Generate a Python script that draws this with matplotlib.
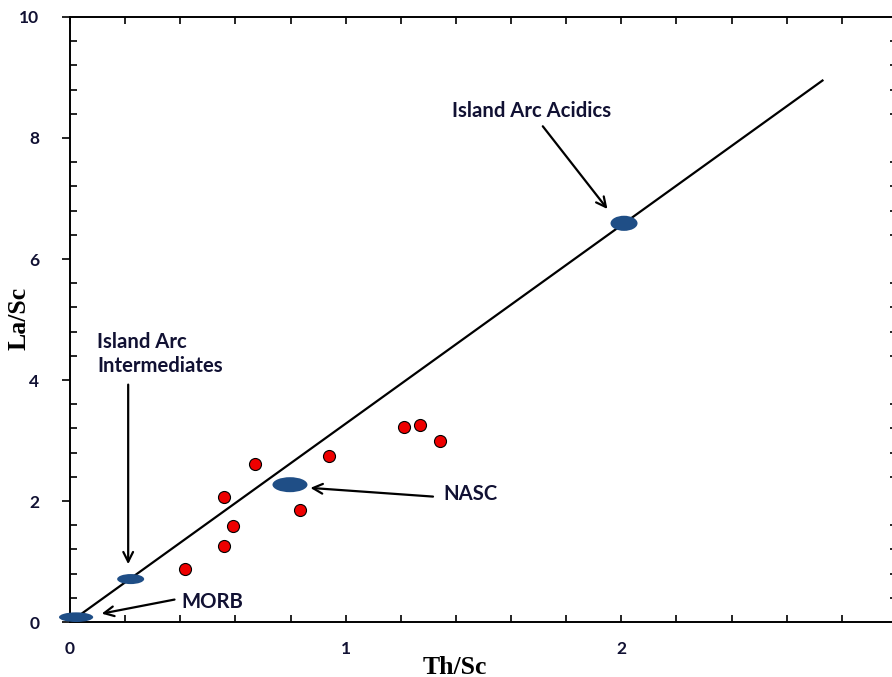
import matplotlib.pyplot as plt
from matplotlib.patches import Ellipse
from matplotlib.ticker import MultipleLocator

# sample data (Th/Sc vs La/Sc)
th_sc = [0.418, 0.56, 0.56, 0.59, 0.67, 0.836, 0.939, 1.211, 1.27, 1.341]
la_sc = [0.877, 1.26, 2.06, 1.59, 2.62, 1.85, 2.75, 3.23, 3.26, 3.0]

# reference fields
ref_names = ['MORB', 'Island Arc Intermediates', 'NASC', 'Island Arc Acidics']
ref_x = [0.022, 0.22, 0.798, 2.01]
ref_y = [0.08, 0.71, 2.27, 6.59]

# mixing line
line_x = [0.0, 2.73]
line_y = [0.0, 8.95]

fig = plt.figure(figsize=(8.92, 6.77), dpi=100)
ax = fig.add_axes([0.0785, 0.0812, 0.927, 0.8937])

ax.plot(line_x, line_y, color='black', lw=1.6, zorder=2)

# ellipse sizes in data units (width, height)
ell_w = [0.124, 0.098, 0.127, 0.098]
ell_h = [0.16, 0.166, 0.248, 0.25]
for x, y, w, h in zip(ref_x, ref_y, ell_w, ell_h):
    ax.add_patch(Ellipse((x, y), w, h, facecolor='#1f4e86', edgecolor='none',
                         zorder=3, clip_on=False))

ax.scatter(th_sc, la_sc, s=75, color='#ee0000', edgecolor='black', linewidth=0.8, zorder=4)

ann_font = dict(family='Lato', fontweight='bold', fontsize=14.6, color='#111133')
arrow = dict(arrowstyle='->,head_length=0.7,head_width=0.35', color='black', lw=1.6)

ax.text(1.673, 8.44, 'Island Arc Acidics', ha='center', va='center', **ann_font)
ax.annotate('', xy=(1.956, 6.79), xytext=(1.709, 8.23), arrowprops=arrow)

ax.text(0.098, 4.43, 'Island Arc\nIntermediates', ha='left', va='center', linespacing=1.3, **ann_font)
ax.annotate('', xy=(0.211, 0.91), xytext=(0.211, 3.97), arrowprops=arrow)

ax.text(0.404, 0.33, 'MORB', ha='left', va='center', **ann_font)
ax.annotate('', xy=(0.105, 0.13), xytext=(0.389, 0.38), arrowprops=arrow)

ax.text(1.356, 2.12, 'NASC', ha='left', va='center', **ann_font)
ax.annotate('', xy=(0.862, 2.22), xytext=(1.327, 2.07), arrowprops=arrow)

ax.set_xlim(0, 3)
ax.set_ylim(0, 10)
ax.xaxis.set_major_locator(MultipleLocator(1))
ax.xaxis.set_minor_locator(MultipleLocator(0.2))
ax.yaxis.set_major_locator(MultipleLocator(2))
ax.yaxis.set_minor_locator(MultipleLocator(0.4))

ax.tick_params(axis='x', which='both', direction='in', top=True, length=5, width=1.2, pad=14)
ax.tick_params(axis='y', which='major', direction='out', length=6, width=1.2, pad=16)
ax.tick_params(axis='y', which='minor', direction='in', right=True, length=5, width=1.2)
ax.tick_params(axis='y', which='major', right=False)
for lab in ax.get_xticklabels() + ax.get_yticklabels():
    lab.set_fontfamily('Lato')
    lab.set_fontweight('bold')
    lab.set_fontsize(12.5)
    lab.set_color('#111133')

for sp in ax.spines.values():
    sp.set_linewidth(1.4)

# axis titles placed in figure coordinates
fig.text(0.474, 0.031, 'Th/Sc', family='Liberation Serif', fontweight='bold', fontsize=18.5,
         ha='left', va='top')
fig.text(0.0213, 0.529, 'La/Sc', family='Liberation Serif', fontweight='bold', fontsize=18.5,
         ha='center', va='center', rotation=90)

fig.savefig('out.png', dpi=100)
